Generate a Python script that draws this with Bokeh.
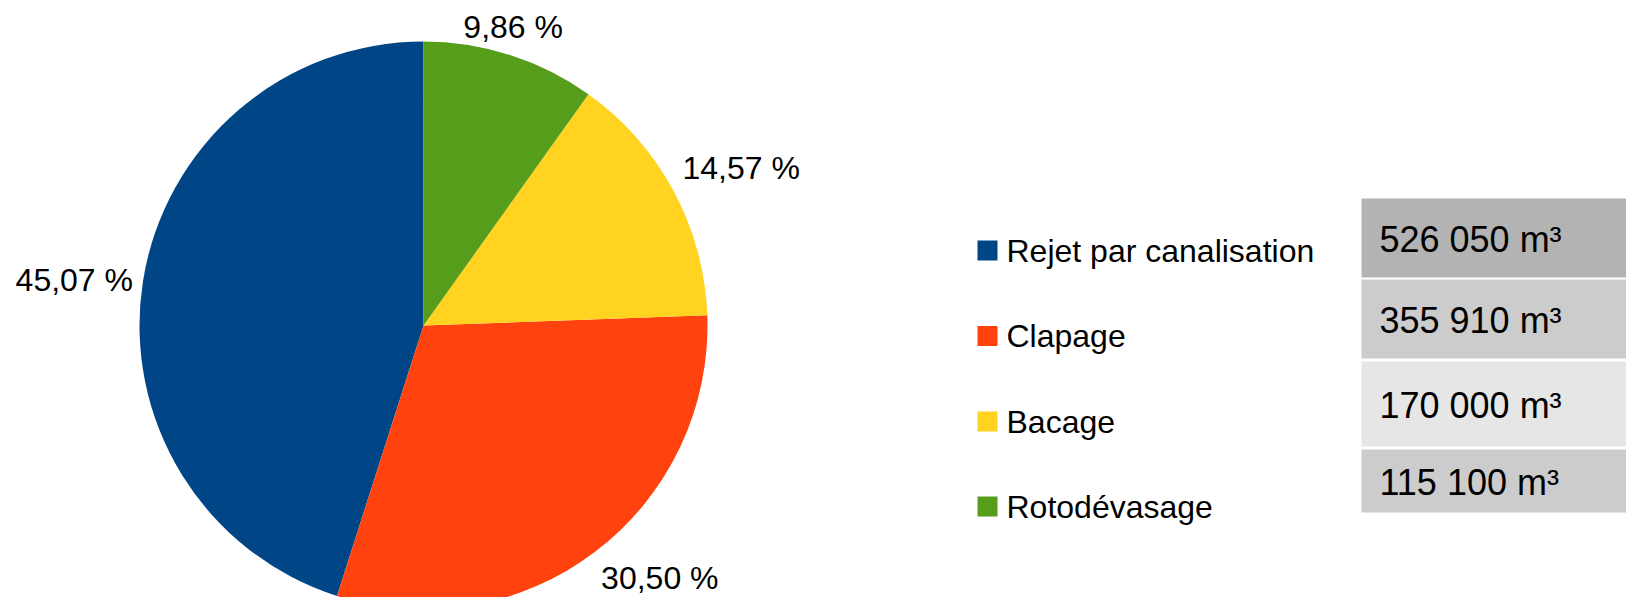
import math
from bokeh.plotting import figure
from bokeh.models import Range1d, ColumnDataSource
from bokeh.core.properties import value
from bokeh.embed import file_html
from bokeh.resources import INLINE

# ---- data ----
categories = ["Rejet par canalisation", "Clapage", "Bacage", "Rotodévasage"]
volumes = [526050, 355910, 170000, 115100]
volume_labels = ["526 050 m³", "355 910 m³", "170 000 m³", "115 100 m³"]
colors = ["#004586", "#ff420e", "#ffd320", "#579d1c"]
table_colors = ["#b3b3b3", "#cccccc", "#e6e6e6", "#cccccc"]

W, H = 1626, 597
FONT = "Liberation Sans"

p = figure(width=W, height=H, output_backend="svg", toolbar_location=None,
           x_range=Range1d(0, W), y_range=Range1d(0, H), min_border=0,
           outline_line_color=None, background_fill_color="white",
           border_fill_color="white")
p.axis.visible = False
p.grid.visible = False

def py(page_y):
    # screen pixel y (top-down) -> data y
    return H - page_y

def px(page_x):
    return page_x

# ---- pie ----
cx, cy, r = px(423), py(325), 284
total = sum(volumes)
fracs = [v / total for v in volumes]
starts, ends, mids = [], [], []
a = math.pi / 2
for f in fracs:
    b = a + f * 2 * math.pi
    starts.append(a); ends.append(b); mids.append((a + b) / 2)
    a = b

src = ColumnDataSource(dict(start=starts, end=ends, color=colors))
p.wedge(x=cx, y=cy, radius=r, radius_units="screen", start_angle="start",
        end_angle="end", direction="anticlock", fill_color="color",
        line_color=None, source=src)

# percentage labels
rl = r + 10
for f, m in zip(fracs, mids):
    c, s = math.cos(m), math.sin(m)
    t = f"{f*100:.2f}".replace(".", ",") + " %"
    al = "center" if abs(c) < 0.35 else ("left" if c > 0 else "right")
    bl = "middle" if abs(s) < 0.3 else ("bottom" if s > 0 else "top")
    p.text(x=[cx + rl * c], y=[cy + rl * s], text=[t], text_align=al, text_baseline=bl,
           text_font=value(FONT), text_font_size="32px", text_color="black")

# ---- legend ----
leg_y = [py(v) for v in (250, 335.5, 421, 506)]
p.rect(x=[px(987)] * 4, y=leg_y, width=20, height=20, width_units="screen",
       height_units="screen", fill_color=colors, line_color=None)
p.text(x=[px(1006)] * 4, y=leg_y, text=categories, text_align="left",
       text_baseline="middle", text_font=value(FONT), text_font_size="32px",
       text_color="black")

# ---- value table ----
row_top = [198, 279, 361, 449]
row_bot = [277, 358, 446, 512]
tx0, tx1 = px(1361), px(1640)
p.quad(left=[tx0] * 4, right=[tx1] * 4, top=[py(v) for v in row_top],
       bottom=[py(v) for v in row_bot], fill_color=table_colors, line_color=None)
p.text(x=[px(1379)] * 4, y=[py((a + b) / 2 + 1) for a, b in zip(row_top, row_bot)],
       text=volume_labels, text_align="left", text_baseline="middle",
       text_font=value(FONT), text_font_size="36px", text_color="black")

open("out.html", "w").write(file_html(p, INLINE))
